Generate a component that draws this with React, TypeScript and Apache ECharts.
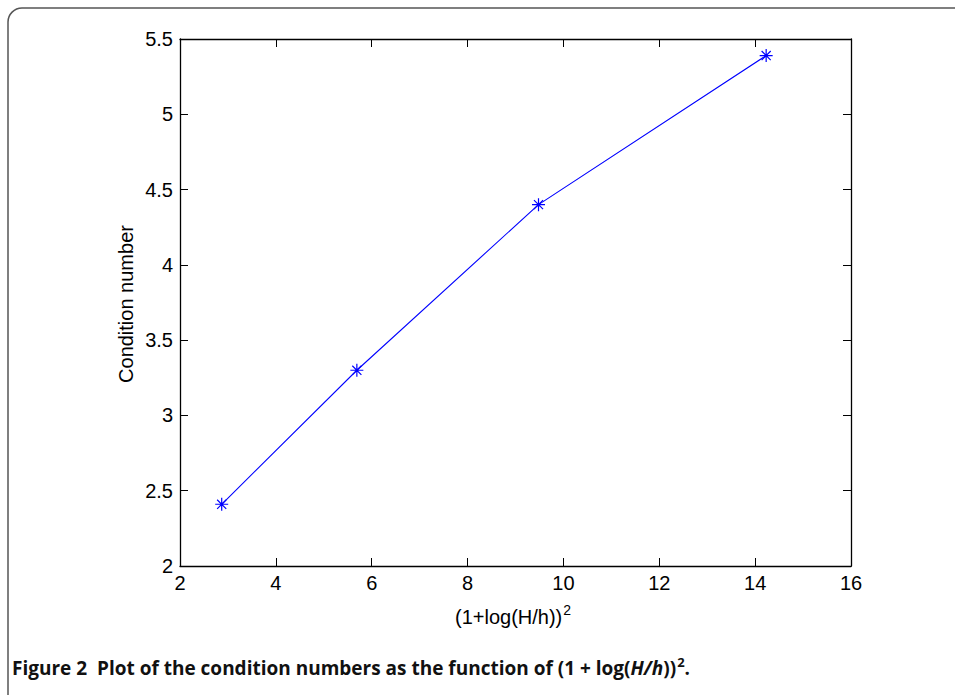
import React, { useEffect, useRef } from "react";
import * as echarts from "echarts";

const xValues = [2.87, 5.69, 9.48, 14.23];
const yValues = [2.41, 3.3, 4.4, 5.39];
const xTicks = [2, 4, 6, 8, 10, 12, 14, 16];
const yTicks = [2, 2.5, 3, 3.5, 4, 4.5, 5, 5.5];

const asterisk =
  "path://M5 0 L5 10 M0 5 L10 5 M1.5 1.5 L8.5 8.5 M1.5 8.5 L8.5 1.5";

export default function App() {
  const ref = useRef<HTMLDivElement>(null);
  useEffect(() => {
    document.body.style.margin = "0";
    if (!ref.current) return;
    const chart = echarts.init(ref.current, undefined, { renderer: "svg" });
    const font = "'Liberation Sans', Arial, sans-serif";
    const capFont = "'Open Sans', sans-serif";
    const axisLine = { show: true, lineStyle: { color: "#000", width: 1.3 } };
    const tick = { show: true, inside: true, length: 8, lineStyle: { color: "#000", width: 1 } };
    chart.setOption({
      animation: false,
      backgroundColor: "#fff",
      grid: { left: 180, right: 104, top: 39, bottom: 129, show: false },
      xAxis: [
        {
          type: "value",
          min: 2,
          max: 16,
          interval: 2,
          position: "bottom",
          axisLine,
          axisTick: tick,
          splitLine: { show: false },
          axisLabel: {
            fontFamily: font,
            fontSize: 20,
            color: "#000",
            margin: 7,
            formatter: (v: number) => (xTicks.includes(v) ? String(v) : ""),
          },
        },
        {
          type: "value",
          min: 2,
          max: 16,
          interval: 2,
          position: "top",
          axisLine,
          axisTick: tick,
          axisLabel: { show: false },
          splitLine: { show: false },
        },
      ],
      yAxis: [
        {
          type: "value",
          min: 2,
          max: 5.5,
          interval: 0.5,
          position: "left",
          axisLine,
          axisTick: tick,
          splitLine: { show: false },
          axisLabel: {
            fontFamily: font,
            fontSize: 20,
            color: "#000",
            margin: 7,
            formatter: (v: number) => (yTicks.includes(v) ? String(v) : ""),
          },
        },
        {
          type: "value",
          min: 2,
          max: 5.5,
          interval: 0.5,
          position: "right",
          axisLine,
          axisTick: tick,
          axisLabel: { show: false },
          splitLine: { show: false },
        },
      ],
      series: [
        {
          type: "line",
          data: xValues.map((x, i) => [x, yValues[i]]),
          xAxisIndex: 0,
          yAxisIndex: 0,
          lineStyle: { color: "#0000ff", width: 1.1 },
          symbol: asterisk,
          symbolSize: 13,
          showAllSymbol: true,
          itemStyle: { color: "none", borderColor: "#0000ff", borderWidth: 1.2 },
        },
      ],
      graphic: [
        {
          type: "rect",
          shape: { x: 8, y: 8, width: 1100, height: 1100, r: 14 },
          style: { fill: "none", stroke: "#555", lineWidth: 1.5 },
          silent: true,
        },
        {
          type: "text",
          x: 513,
          y: 617,
          style: {
            text: "{a|(1+log(H/h))}{s|2}",
            align: "center",
            verticalAlign: "middle",
            rich: {
              a: { fontFamily: font, fontSize: 20, fill: "#000" },
              s: { fontFamily: font, fontSize: 14, fill: "#000", padding: [0, 0, 14, 1] },
            },
          },
        },
        {
          type: "text",
          x: 126,
          y: 304,
          rotation: Math.PI / 2,
          style: {
            text: "Condition number",
            align: "center",
            verticalAlign: "middle",
            fontFamily: font,
            fontSize: 20,
            fill: "#000",
          },
        },
        {
          type: "text",
          x: 12,
          y: 668,
          style: {
            text:
              "{b|Figure 2  Plot of the condition numbers as the function of (1 + log(}{i|H/h}{b|))}{s|2}{b|.}",
            verticalAlign: "middle",
            rich: {
              b: { fontFamily: capFont, fontWeight: "bold", fontSize: 19, fill: "#111" },
              i: { fontFamily: capFont, fontWeight: "bold", fontStyle: "italic", fontSize: 19, fill: "#111" },
              s: { fontFamily: capFont, fontWeight: "bold", fontSize: 13, fill: "#111", padding: [0, 0, 12, 1] },
            },
          },
        },
      ],
    });
    return () => chart.dispose();
  }, []);
  return <div ref={ref} style={{ width: 955, height: 695 }} />;
}
